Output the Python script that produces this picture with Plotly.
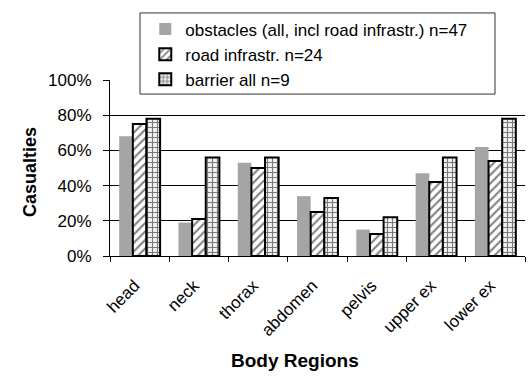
import plotly.graph_objects as go

# Share of casualties with injuries per body region
regions = ["head", "neck", "thorax", "abdomen", "pelvis", "upper ex", "lower ex"]
obstacles_all = [0.68, 0.19, 0.53, 0.34, 0.15, 0.47, 0.62]
road_infra = [0.75, 0.21, 0.50, 0.25, 0.125, 0.42, 0.54]
barrier_all = [0.78, 0.56, 0.56, 0.33, 0.22, 0.56, 0.78]

series_names = [
    "obstacles (all, incl road infrastr.) n=47",
    "road infrastr. n=24",
    "barrier all n=9",
]
y_ticks = [0, 0.2, 0.4, 0.6, 0.8, 1.0]

FONT = "Liberation Sans, Arial, sans-serif"

fig = go.Figure()
fig.add_trace(go.Bar(
    x=regions, y=obstacles_all, name=series_names[0], legendgroup="a",
    marker=dict(color="#a5a5a5", line=dict(width=0)),
))
fig.add_trace(go.Bar(
    x=regions, y=road_infra, name=series_names[1], legendgroup="b",
    marker=dict(
        color="white",
        line=dict(color="black", width=2),
        pattern=dict(shape="/", fgcolor="black", bgcolor="white", size=6, solidity=0.35),
    ),
))
fig.add_trace(go.Bar(
    x=regions, y=barrier_all, name=series_names[2], legendgroup="c",
    marker=dict(
        color="white",
        line=dict(color="black", width=2),
        pattern=dict(shape="+", fgcolor="black", bgcolor="#f2f2f2", size=5, solidity=0.4),
    ),
))

# legend frame
fig.add_shape(
    type="rect", xref="paper", yref="paper",
    x0=0.0723, x1=0.9277, y0=0.920, y1=1.381,
    line=dict(color="#333333", width=1), fillcolor="white", layer="above",
)

fig.add_annotation(
    text="<b>Casualties</b>", xref="paper", yref="paper",
    x=-0.222, y=0.21, textangle=-90, showarrow=False,
    font=dict(family=FONT, size=18, color="black"),
)
fig.add_annotation(
    text="<b>Body Regions</b>", xref="paper", yref="paper",
    x=0.446, y=-0.662, showarrow=False,
    font=dict(family=FONT, size=19, color="black"),
)

fig.update_layout(
    width=531, height=382,
    margin=dict(l=110, r=6, t=80, b=126),
    paper_bgcolor="white", plot_bgcolor="white",
    barmode="group", bargap=0.31, bargroupgap=0,
    font=dict(family=FONT, size=17, color="black"),
    showlegend=True,
    legend=dict(
        x=0.085, y=1.389, xanchor="left", yanchor="top",
        bgcolor="rgba(0,0,0,0)", borderwidth=0,
        tracegroupgap=6, font=dict(family=FONT, size=17, color="black"),
        traceorder="normal",
    ),
    xaxis=dict(
        showline=True, linecolor="black", linewidth=1,
        ticks="outside", tickson="boundaries", ticklen=5, tickcolor="black",
        tickangle=-45, tickfont=dict(family=FONT, size=17),
        ticklabelstandoff=12, ticklabelshift=-5,
    ),
    yaxis=dict(
        range=[0, 1.0], tickvals=y_ticks, tickformat=".0%",
        showline=True, linecolor="black", linewidth=1,
        showgrid=True, gridcolor="black", gridwidth=1,
        ticks="outside", ticklen=6, tickcolor="black",
        ticklabelstandoff=8, zeroline=False,
        tickfont=dict(family=FONT, size=17),
    ),
)

fig.write_html("out.html")
